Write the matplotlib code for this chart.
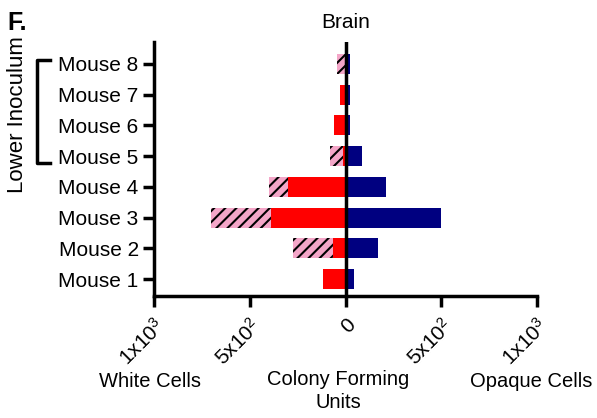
import matplotlib
matplotlib.use("Agg")
import matplotlib.pyplot as plt
from matplotlib.lines import Line2D

plt.rcParams["font.family"] = ["Liberation Sans", "DejaVu Sans"]
plt.rcParams["mathtext.fontset"] = "custom"
plt.rcParams["mathtext.rm"] = "Liberation Sans"
plt.rcParams["mathtext.it"] = "Liberation Sans"
plt.rcParams["mathtext.default"] = "regular"
plt.rcParams["hatch.linewidth"] = 1.5

mice = ["Mouse 1", "Mouse 2", "Mouse 3", "Mouse 4", "Mouse 5", "Mouse 6", "Mouse 7", "Mouse 8"]
white_solid = [117, 66, 390, 299, 14, 58, 28, 0]     # red part, CFU
white_hatched = [0, 207, 310, 103, 65, 0, 0, 47]     # pink hatched part, CFU
opaque = [44, 168, 499, 210, 86, 26, 26, 26]         # navy, CFU
xticks = [-1000, -500, 0, 500, 1000]
xticklabels = ["1x10$^3$", "5x10$^2$", "0", "5x10$^2$", "1x10$^3$"]

fig = plt.figure(figsize=(5.97, 4.18), dpi=100)
ax = fig.add_axes([0.258, 0.292, 0.6415, 0.608])
y = list(range(1, len(mice) + 1))
neg_solid = [-v for v in white_solid]
neg_hatch = [-v for v in white_hatched]

ax.barh(y, neg_solid, height=0.65, color="#ff0000", lw=0)
ax.barh(y, neg_hatch, left=neg_solid, height=0.65, color="#f4a6c8",
        edgecolor="black", hatch="///", lw=0)
ax.barh(y, opaque, height=0.65, color="#000080", lw=0)
ax.axvline(0, color="black", lw=2.5)

ax.set_xlim(-1000, 1000)
ax.set_ylim(0.45, 8.72)
ax.set_yticks(y)
ax.set_yticklabels(mice, fontsize=15)
ax.set_xticks(xticks)
ax.set_xticklabels(xticklabels, rotation=45, ha="right", va="top", rotation_mode="anchor", fontsize=15)
for s in ["top", "right"]:
    ax.spines[s].set_visible(False)
for s in ["left", "bottom"]:
    ax.spines[s].set_linewidth(2.5)
ax.tick_params(axis="both", width=2.5, length=8, pad=3)
ax.tick_params(axis="x", pad=6)
ax.set_title("Brain", fontsize=15, pad=10)

fig.text(0.013, 0.944, "F.", fontsize=18, fontweight="bold", ha="left", va="center")
fig.text(0.029, 0.725, "Lower Inoculum", fontsize=16, rotation=90, ha="center", va="center")
fig.add_artist(Line2D([0.084, 0.062, 0.062, 0.084], [0.857, 0.857, 0.61, 0.61],
                      transform=fig.transFigure, color="black", lw=2.5))
fig.text(0.251, 0.088, "White Cells", fontsize=14.5, ha="center", va="center")
fig.text(0.566, 0.064, "Colony Forming\nUnits", fontsize=14.5, ha="center", va="center", linespacing=1.3)
fig.text(0.889, 0.088, "Opaque Cells", fontsize=14.5, ha="center", va="center")

fig.savefig("out.png", dpi=100)
